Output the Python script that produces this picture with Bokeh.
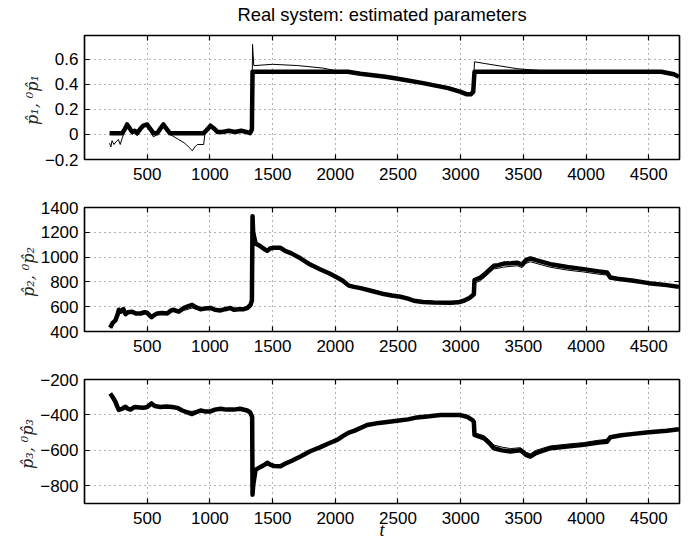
from bokeh.plotting import figure
from bokeh.layouts import column, row
from bokeh.models import Range1d, FixedTicker, LinearAxis, CustomJSTickFormatter, Grid, Spacer
from bokeh.core.properties import value
from bokeh.embed import file_html
from bokeh.resources import INLINE

# ---------------- data ----------------
x_ticks = [500, 1000, 1500, 2000, 2500, 3000, 3500, 4000, 4500]
y1_ticks = [-0.2, 0, 0.2, 0.4, 0.6]
y2_ticks = [400, 600, 800, 1000, 1200, 1400]
y3_ticks = [-800, -600, -400, -200]

# p1 : estimated (thick) and initial estimate (thin)
t1_thick = [200, 300, 320, 340, 360, 380, 400, 420, 450, 470, 500, 520, 550, 580, 600, 630, 650, 680,
            700, 950, 980, 1005, 1030, 1060, 1100, 1150, 1200, 1250, 1290, 1320, 1335, 1340, 1360,
            2100, 2200, 2400, 2500, 2700, 2800, 2900, 3000, 3050, 3080, 3100, 3110,
            4600, 4650, 4700, 4740]
p1_thick = [0.01, 0.01, 0.04, 0.08, 0.05, 0.02, 0.03, 0.01, 0.05, 0.07, 0.08, 0.05, 0.01, 0.01, 0.04, 0.08, 0.05, 0.01,
            0.01, 0.01, 0.04, 0.07, 0.05, 0.02, 0.02, 0.03, 0.02, 0.03, 0.02, 0.01, 0.04, 0.5, 0.5,
            0.5, 0.485, 0.46, 0.445, 0.41, 0.39, 0.37, 0.34, 0.32, 0.32, 0.34, 0.5,
            0.5, 0.49, 0.48, 0.46]
t1_thin = [200, 210, 220, 235, 250, 270, 285, 300, 320, 340, 360, 380, 400, 420, 450, 470, 500, 520, 550,
           580, 600, 630, 650, 680, 700, 750, 800, 830, 860, 880, 900, 950, 960, 980, 1005, 1030, 1060,
           1100, 1150, 1200, 1250, 1290, 1320, 1335, 1340, 1350, 1360, 1500, 1700, 1900, 2000, 2100,
           2200, 2400, 2500, 2700, 2800, 2900, 3000, 3050, 3080, 3100, 3110, 3200, 3450, 3700, 3800,
           4600, 4650, 4700, 4740]
p1_thin = [-0.07, -0.1, -0.05, -0.08, -0.06, -0.04, -0.08, -0.03, 0.02, 0.06, 0.03, 0.0, 0.02, -0.01, 0.04, 0.06, 0.07, 0.03, -0.02,
           0.0, 0.03, 0.07, 0.03, 0.0, -0.01, -0.04, -0.07, -0.1, -0.13, -0.1, -0.08, -0.08, 0.0, 0.04, 0.07, 0.05, 0.02,
           0.02, 0.03, 0.02, 0.03, 0.02, 0.01, 0.04, 0.72, 0.55, 0.55, 0.56, 0.55, 0.53, 0.51, 0.5,
           0.485, 0.46, 0.445, 0.41, 0.39, 0.37, 0.34, 0.32, 0.32, 0.34, 0.58, 0.565, 0.525, 0.505, 0.5,
           0.5, 0.49, 0.48, 0.46]

# p2
t2_thick = [205, 225, 247, 265, 274, 290, 310, 327, 345, 380, 410, 447, 480, 500, 534, 560, 580, 620, 659,
            690, 712, 752, 792, 830, 858, 890, 925, 960, 1005, 1040, 1085, 1120, 1164, 1191, 1230, 1271,
            1300, 1324, 1335, 1340, 1345, 1364, 1400, 1440, 1457, 1480, 1510, 1563, 1600, 1650, 1722,
            1800, 1882, 1950, 2015, 2060, 2108, 2150, 2201, 2300, 2387, 2450, 2520, 2580, 2626, 2700,
            2785, 2918, 2980, 3025, 3070, 3094, 3105, 3110, 3158, 3200, 3264, 3300, 3344, 3400, 3450,
            3490, 3520, 3556, 3600, 3716, 3850, 3981, 4100, 4167, 4193, 4250, 4379, 4500, 4644, 4740]
p2_thick = [430, 470, 490, 540, 575, 560, 580, 540, 555, 560, 545, 545, 555, 550, 515, 535, 545, 550, 545,
            570, 575, 560, 590, 605, 615, 595, 580, 585, 590, 575, 570, 580, 590, 575, 580, 580,
            590, 615, 650, 1330, 1200, 1110, 1090, 1060, 1050, 1070, 1075, 1075, 1050, 1030, 990,
            940, 900, 870, 835, 810, 770, 760, 750, 725, 702, 690, 680, 665, 648, 638,
            634, 632, 635, 648, 670, 690, 700, 815, 835, 870, 930, 935, 948, 950, 955,
            940, 975, 989, 975, 943, 920, 903, 885, 876, 835, 825, 809, 790, 774, 760]
t2_thin = [205, 225, 247, 265, 274, 290, 310, 327, 345, 380, 410, 447, 480, 500, 534, 560, 580, 620, 659,
           690, 712, 752, 792, 830, 858, 890, 925, 960, 1005, 1040, 1085, 1120, 1164, 1191, 1230, 1271,
           1300, 1324, 1335, 1340, 1345, 1364, 1400, 1440, 1457, 1480, 1510, 1563, 1600, 1650, 1722,
           1800, 1882, 1950, 2015, 2060, 2108, 2150, 2201, 2300, 2387, 2450, 2520, 2580, 2626, 2700,
           2785, 2918, 2980, 3025, 3070, 3094, 3105, 3110, 3158, 3200, 3264, 3300, 3344, 3400, 3450,
           3490, 3520, 3556, 3600, 3716, 3850, 3981, 4100, 4167, 4193, 4250, 4379, 4500, 4644, 4740]
p2_thin = [425, 465, 485, 535, 570, 555, 575, 535, 550, 555, 540, 540, 550, 545, 510, 530, 540, 545, 540,
           560, 560, 555, 570, 580, 590, 580, 575, 580, 585, 570, 565, 575, 585, 570, 575, 575,
           585, 610, 645, 1325, 1195, 1105, 1087, 1057, 1047, 1067, 1072, 1072, 1047, 1027, 987,
           937, 897, 867, 832, 807, 767, 757, 747, 722, 699, 687, 677, 662, 645, 635,
           631, 629, 632, 645, 667, 687, 695, 790, 810, 845, 905, 910, 920, 925, 930,
           915, 950, 962, 950, 918, 895, 880, 862, 855, 830, 822, 806, 788, 772, 758]

# p3
t3_thick = [205, 225, 247, 260, 274, 300, 327, 345, 367, 400, 440, 470, 500, 534, 560, 606, 650, 700,
            739, 780, 820, 858, 890, 925, 960, 1005, 1040, 1085, 1130, 1191, 1240, 1297, 1320, 1337,
            1340, 1345, 1364, 1400, 1440, 1457, 1480, 1510, 1563, 1600, 1650, 1722, 1800, 1882, 1950,
            2015, 2060, 2108, 2150, 2254, 2350, 2493, 2580, 2652, 2750, 2839, 2998, 3050, 3094, 3105,
            3110, 3187, 3230, 3264, 3330, 3397, 3477, 3520, 3556, 3600, 3716, 3850, 3981, 4100, 4167,
            4193, 4280, 4379, 4500, 4644, 4740]
p3_thick = [-279, -300, -326, -350, -372, -365, -354, -365, -370, -355, -358, -360, -355, -335, -350, -355, -352, -355,
            -360, -375, -385, -395, -385, -375, -380, -380, -370, -365, -370, -370, -365, -375, -385, -410,
            -850, -800, -710, -695, -680, -670, -680, -688, -690, -675, -660, -635, -605, -582, -560,
            -541, -520, -500, -490, -457, -445, -433, -425, -414, -408, -401, -401, -410, -429, -440,
            -513, -532, -560, -588, -600, -607, -600, -625, -635, -615, -588, -578, -569, -556, -551,
            -526, -515, -507, -498, -489, -481]
t3_thin = [205, 225, 247, 260, 274, 300, 327, 345, 367, 400, 440, 470, 500, 534, 560, 606, 650, 700,
           739, 780, 820, 858, 890, 925, 960, 1005, 1040, 1085, 1130, 1191, 1240, 1297, 1320, 1337,
           1340, 1345, 1364, 1400, 1440, 1457, 1480, 1510, 1563, 1600, 1650, 1722, 1800, 1882, 1950,
           2015, 2060, 2108, 2150, 2254, 2350, 2493, 2580, 2652, 2750, 2839, 2998, 3050, 3094, 3105,
           3110, 3187, 3230, 3264, 3330, 3397, 3477, 3520, 3556, 3600, 3716, 3850, 3981, 4100, 4167,
           4193, 4280, 4379, 4500, 4644, 4740]
p3_thin = [-282, -303, -329, -352, -374, -367, -357, -367, -372, -357, -360, -362, -357, -338, -352, -357, -355, -357,
           -362, -370, -378, -380, -375, -370, -378, -378, -368, -363, -368, -368, -363, -373, -383, -408,
           -845, -795, -705, -692, -677, -667, -677, -685, -687, -672, -657, -632, -602, -579, -557,
           -538, -517, -497, -487, -454, -442, -430, -422, -411, -405, -398, -398, -407, -426, -437,
           -500, -518, -545, -570, -582, -590, -585, -610, -620, -600, -575, -565, -556, -543, -538,
           -522, -513, -505, -496, -487, -479]

title_text = "Real system: estimated parameters"
y_labels = ["p\u0302\u2081,  \u2070p\u0302\u2081", "p\u0302\u2082,  \u2070p\u0302\u2082", "p\u0302\u2083,  \u2070p\u0302\u2083"]
x_label = "t"

# ---------------- styling helpers ----------------
FONT = "Liberation Sans"
SERIF = "DejaVu Serif"
FS = "17px"
W = 699

num_fmt = CustomJSTickFormatter(code="""
var v = Math.round(tick*10)/10;
var s = (Math.abs(v) < 1e-9) ? '0' : String(v);
return s.replace('-', '\u2212');
""")


def empty_fmt():
    return CustomJSTickFormatter(code="return '';")


def make_fig(yr, yticks, ylab, shift, height, top, bottom, xlab=None):
    p = figure(width=W - shift, height=height, output_backend="svg", toolbar_location=None,
               x_range=Range1d(0, 4745), y_range=Range1d(*yr),
               min_border_left=84 - shift, min_border_right=20, min_border_top=top, min_border_bottom=bottom,
               x_axis_type=None, y_axis_type=None)
    p.background_fill_color = "white"
    p.border_fill_color = "white"
    p.outline_line_color = "black"
    p.outline_line_width = 1.5
    p.outline_line_alpha = 1

    xt = FixedTicker(ticks=x_ticks, minor_ticks=[])
    yt = FixedTicker(ticks=yticks, minor_ticks=[])

    for dim, tk in ((0, xt), (1, yt)):
        g = Grid(dimension=dim, ticker=tk, grid_line_color="#666666", grid_line_dash="1 4",
                 grid_line_width=1)
        p.add_layout(g)

    common = dict(major_tick_in=5, major_tick_out=0, minor_tick_in=0, minor_tick_out=0,
                  axis_line_color="black", axis_line_width=1.2,
                  major_tick_line_color="black", major_tick_line_width=1.2)
    xa = LinearAxis(ticker=xt, formatter=num_fmt, major_label_text_font=FONT, major_label_text_font_size=FS,
                    major_label_text_color="black", major_label_standoff=8, **common)
    if xlab:
        xa.axis_label = xlab
        xa.axis_label_text_font = "Liberation Serif"
        xa.axis_label_text_font_style = "italic"
        xa.axis_label_text_font_size = "18px"
        xa.axis_label_standoff = -7
        xa.axis_label_text_color = "black"
    p.add_layout(xa, "below")
    ya = LinearAxis(ticker=yt, formatter=num_fmt, major_label_text_font=FONT, major_label_text_font_size=FS,
                    major_label_text_color="black", major_label_standoff=6,
                    axis_label=ylab, axis_label_text_font=SERIF, axis_label_text_font_style="italic",
                    axis_label_text_font_size="16px", axis_label_standoff=0,
                    axis_label_text_color="#222222", **common)
    p.add_layout(ya, "left")
    xa2 = LinearAxis(ticker=xt, formatter=empty_fmt(), major_label_text_font_size="0px",
                     major_label_standoff=0, **common)
    p.add_layout(xa2, "above")
    ya2 = LinearAxis(ticker=yt, formatter=empty_fmt(), major_label_text_font_size="0px",
                     major_label_standoff=0, **common)
    p.add_layout(ya2, "right")
    return p


def with_shift(p, shift):
    if shift <= 0:
        return p
    return row(Spacer(width=shift, height=p.height), p, spacing=0)


# title strip (own little canvas so its position is exact)
TH = 25
pt = figure(width=W, height=TH, output_backend="svg", toolbar_location=None,
            x_range=Range1d(0, W), y_range=Range1d(0, TH), min_border=0,
            x_axis_type=None, y_axis_type=None)
pt.outline_line_color = None
pt.xgrid.visible = False
pt.ygrid.visible = False
pt.text(x=[381.5], y=[TH - 13.7], text=[title_text], text_align="center", text_baseline="middle",
        text_font=value(FONT), text_font_size="18.4px", text_color="black")

s1, s2, s3 = 14, 4, 11
p1 = make_fig((-0.2, 0.79), y1_ticks, y_labels[0], s1, 164, 10, 30)
p1.line(t1_thick, p1_thick, line_width=4.5, color="black", line_join="round")
p1.line(t1_thin, p1_thin, line_width=1, color="black")

p2 = make_fig((400, 1400), y2_ticks, y_labels[1], s2, 172, 18, 30)
p2.line(t2_thick, p2_thick, line_width=4.5, color="black", line_join="round")
p2.line(t2_thin, p2_thin, line_width=1, color="black")

p3 = make_fig((-900, -200), y3_ticks, y_labels[2], s3, 181, 18, 39, xlab=x_label)
p3.line(t3_thick, p3_thick, line_width=4.5, color="black", line_join="round")
p3.line(t3_thin, p3_thin, line_width=1, color="black")

layout = column(pt, with_shift(p1, s1), with_shift(p2, s2), with_shift(p3, s3), spacing=0)
open("out.html", "w").write(file_html(layout, INLINE))
